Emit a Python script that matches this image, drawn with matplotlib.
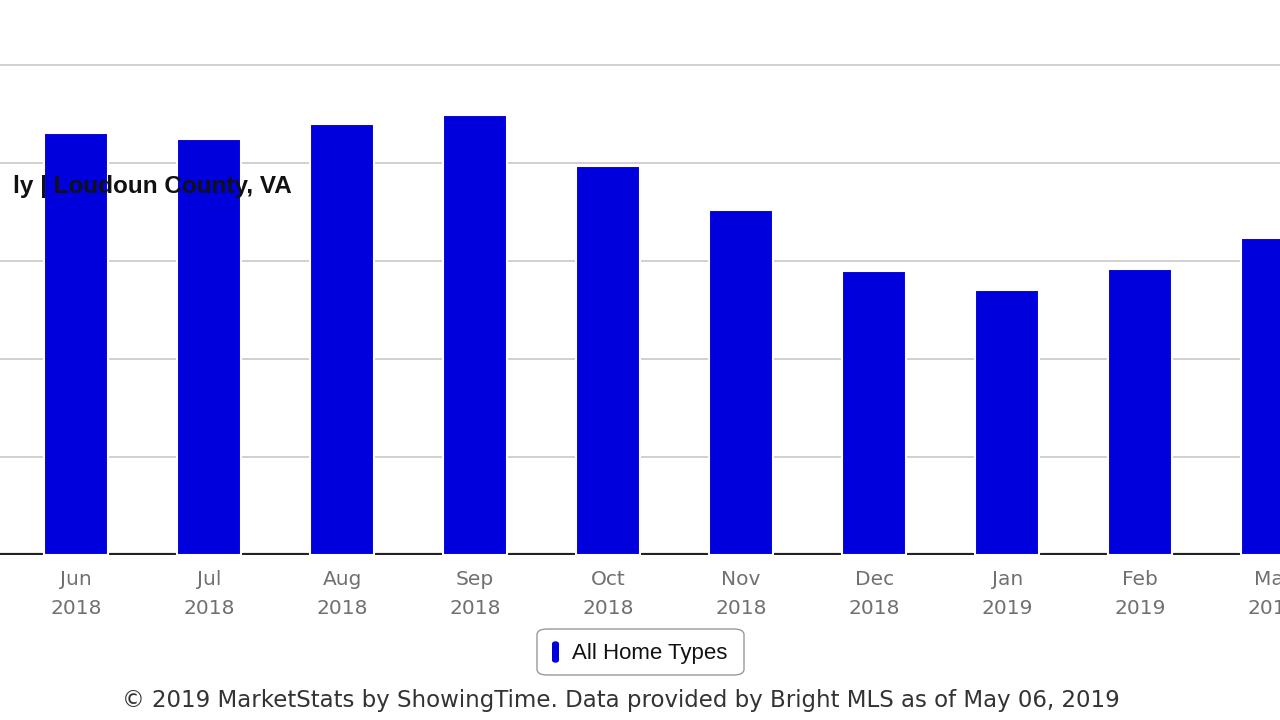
import matplotlib
matplotlib.use("Agg")
import matplotlib.pyplot as plt
from matplotlib.patches import FancyBboxPatch

months = ["Jun\n2018","Jul\n2018","Aug\n2018","Sep\n2018","Oct\n2018","Nov\n2018","Dec\n2018","Jan\n2019","Feb\n2019","Mar\n2019"]
values = [4.31, 4.24, 4.40, 4.49, 3.97, 3.52, 2.90, 2.70, 2.92, 3.23]
series_name = "All Home Types"
title = "ly | Loudoun County, VA"
footer = "© 2019 MarketStats by ShowingTime. Data provided by Bright MLS as of May 06, 2019"

fig = plt.figure(figsize=(12.8, 7.2), dpi=100)
ax = fig.add_axes([0, 1-555/720, 1, 555/720])
x = list(range(len(values)))
ax.set_xlim(-0.571, 9.05)
ax.set_ylim(0, 555/98)
for k in range(1, 6):
    ax.axhline(k, color="#c8c8c8", lw=1.2, zorder=0)
ax.bar(x, values, width=0.48, color="#0000dd", edgecolor="white", linewidth=1.5, zorder=2)
ax.axhline(0, color="#222222", lw=3, zorder=1)
for s in ax.spines.values():
    s.set_visible(False)
ax.set_yticks([])
ax.set_xticks(x)
ax.set_xticklabels(months, color="#707070", fontsize=14.5, linespacing=1.65)
ax.tick_params(axis="x", length=0, pad=11)
fig.text(292/1280, 1-187/720, title, ha="right", va="center", fontsize=17.5,
         fontweight="bold", family="Liberation Sans", color="#111111")
# legend
box = FancyBboxPatch((537/1280, 1-675/720), 207/1280, 46/720,
                     boxstyle="round,pad=0,rounding_size=0.008", transform=fig.transFigure,
                     facecolor="white", edgecolor="#999999", lw=1)
fig.patches.append(box)
mk = FancyBboxPatch((552/1280, 1-663/720), 7/1280, 22/720,
                    boxstyle="round,pad=0,rounding_size=0.004", transform=fig.transFigure,
                    facecolor="#0000dd", edgecolor="none")
fig.patches.append(mk)
fig.text(572/1280, 1-653/720, series_name, ha="left", va="center", fontsize=16,
         family="Liberation Sans", color="#111111")
fig.text(621/1280, 1-700/720, footer, ha="center", va="center", fontsize=16.5, color="#333333")
fig.savefig("out.png", dpi=100)
